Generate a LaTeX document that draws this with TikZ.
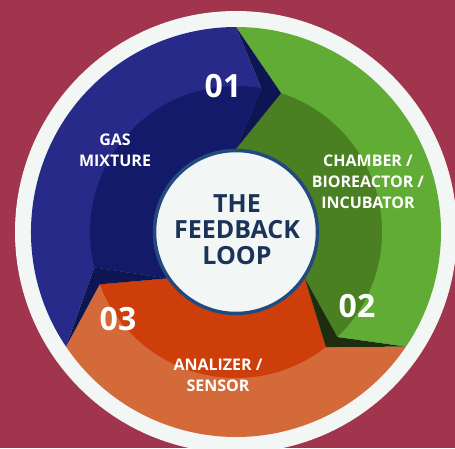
\documentclass[tikz,border=0pt]{standalone}
\usepackage{fontspec}
\setmainfont{Open Sans}
\definecolor{bg}{HTML}{A0354D}
\definecolor{ring}{HTML}{F2F6F5}
\definecolor{blueL}{HTML}{282A8A}
\definecolor{blueD}{HTML}{141A6A}
\definecolor{navyS}{HTML}{0D1652}
\definecolor{greenL}{HTML}{60AC34}
\definecolor{greenD}{HTML}{4A7F22}
\definecolor{greenS}{HTML}{1E2D0E}
\definecolor{orangeL}{HTML}{D4693A}
\definecolor{orangeD}{HTML}{CD3E0B}
\definecolor{hubborder}{HTML}{234A7C}
\definecolor{hubtext}{HTML}{1B3358}
\begin{document}
\begin{tikzpicture}[x=1pt,y=1pt,
  lbl/.style={text=white,font=\bfseries\fontsize{16}{21}\selectfont,align=center,inner sep=0pt},
  num/.style={text=white,font=\bfseries\fontsize{32}{32}\selectfont,inner sep=0pt},
  hubstyle/.style={circle,draw=hubborder,line width=3.5pt,fill=ring,minimum size=163pt,inner sep=0pt},
  titlestyle/.style={text=hubtext,font=\bfseries\fontsize{25}{26}\selectfont,align=center,inner sep=0pt}]
\useasboundingbox (-236,-216) rectangle (219,232);
\fill[bg] (-236,-216) rectangle (219,232);
\fill[ring] (0,0) circle[radius=221pt];
% blue arrow
\fill[blueL] (214:205pt) arc[start angle=214,end angle=90,radius=205pt] -- (80:146pt) -- (90:83pt) arc[start angle=90,end angle=214,radius=83pt] -- (194:146pt) -- cycle;
\fill[blueD] (194:146pt) arc[start angle=194,end angle=80,radius=146pt] -- (90:83pt) arc[start angle=90,end angle=214,radius=83pt] -- cycle;
% green arrow
\fill[greenL] (90:205pt) arc[start angle=90,end angle=-34,radius=205pt] -- (-46:146pt) -- (-34:83pt) arc[start angle=-34,end angle=90,radius=83pt] -- (72:146pt) -- cycle;
\fill[greenD] (72:146pt) arc[start angle=72,end angle=-46,radius=146pt] -- (-34:83pt) arc[start angle=-34,end angle=90,radius=83pt] -- cycle;
% orange arrow
\fill[orangeL] (-34:205pt) arc[start angle=-34,end angle=-146,radius=205pt] -- (-159:146pt) -- (-146:83pt) arc[start angle=-146,end angle=-34,radius=83pt] -- (-52:146pt) -- cycle;
\fill[orangeD] (-52:146pt) arc[start angle=-52,end angle=-159,radius=146pt] -- (-146:83pt) arc[start angle=-146,end angle=-34,radius=83pt] -- cycle;
% shadows
\fill[navyS] (90:205pt) -- (72:146pt) -- (90:83pt) -- (80:146pt) -- cycle;
\fill[greenS] (-34:205pt) -- (-52:146pt) -- (-34:83pt) -- (-46:146pt) -- cycle;
\fill[navyS] (214:205pt) -- (194:146pt) -- (214:83pt) -- (201:146pt) -- cycle;
% hub
\node[hubstyle] (hub) at (0,0) {};
\node[titlestyle] (title) at (1,2) {THE\\FEEDBACK\\LOOP};
% numbers
\node[num] (n1) at (-13,146) {01};
\node[num] (n2) at (121,-74) {02};
\node[num] (n3) at (-118,-87) {03};
% labels
\node[lbl] (gas) at (-121,82) {GAS\\MIXTURE};
\node[lbl] (chamber) at (132,50) {CHAMBER /\\BIOREACTOR /\\INCUBATOR};
\node[lbl] (analizer) at (-18,-143.5) {ANALIZER /\\SENSOR};
\end{tikzpicture}
\end{document}
